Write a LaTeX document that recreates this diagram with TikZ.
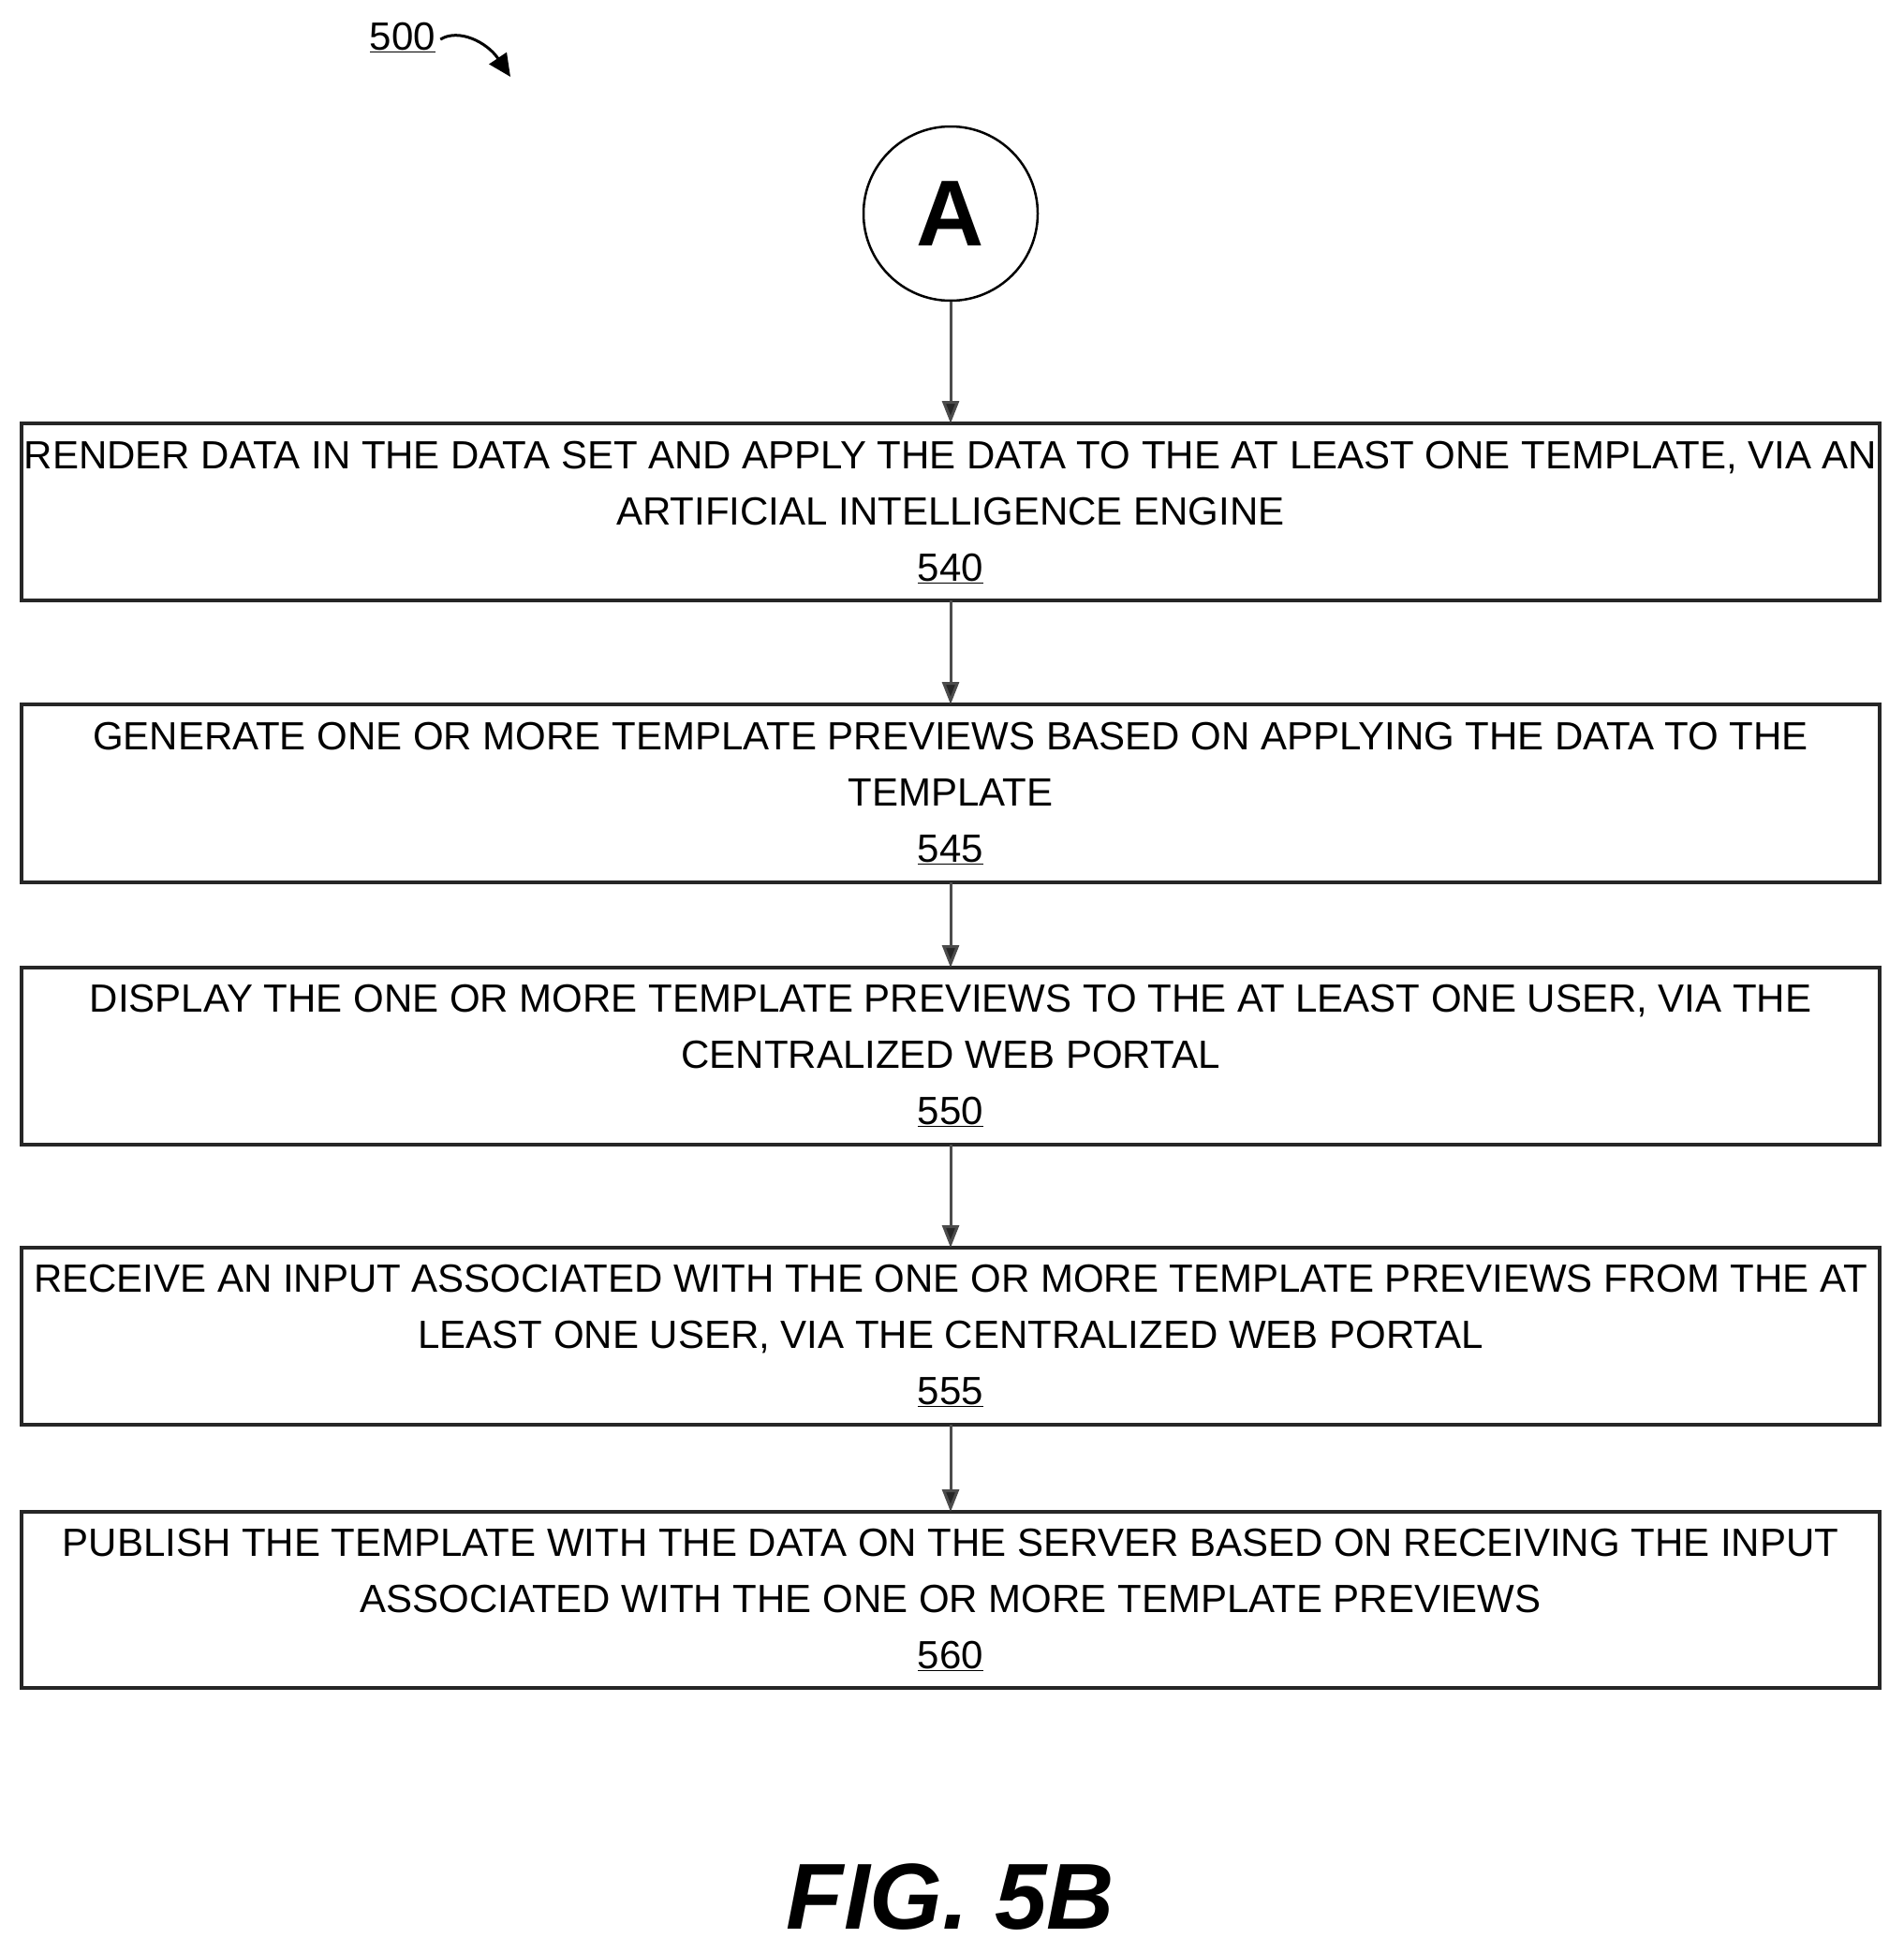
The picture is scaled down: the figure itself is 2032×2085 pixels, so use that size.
\documentclass[tikz,border=0pt]{standalone}
\usepackage{fontspec}
\setmainfont{Liberation Sans}
\usetikzlibrary{arrows.meta}
\begin{document}
\begin{tikzpicture}[x=1pt,y=-1pt,
  box/.style={draw=black!85,line width=4pt},
  txt/.style={align=center,font=\fontsize{42}{60}\selectfont,inner sep=0pt},
  arr/.style={draw=black!70,line width=3pt,-{Triangle[length=24pt,width=18pt,fill=black!85]}}]
\useasboundingbox (0,0) rectangle (2032,2085);
\node[circle,draw=black,line width=2.5pt,minimum size=186pt,inner sep=0pt,font=\fontsize{100}{100}\selectfont\bfseries] (A) at (1015,228) {A};
\foreach \n/\t/\b in {b1/452/641,b2/752/942,b3/1033/1222,b4/1332/1521,b5/1614/1802}{
  \draw[box] (23,\t) rectangle (2007,\b);
  \path (23,\t) rectangle (2007,\b);
  \coordinate (\n t) at (1015,\t);
  \coordinate (\n b) at (1015,\b);
}
\node[txt] (t1) at (1015,547) {RENDER DATA IN THE DATA SET AND APPLY THE DATA TO THE AT LEAST ONE TEMPLATE, VIA AN\\ARTIFICIAL INTELLIGENCE ENGINE\\\underline{540}};
\node[txt] (t2) at (1015,847) {GENERATE ONE OR MORE TEMPLATE PREVIEWS BASED ON APPLYING THE DATA TO THE\\TEMPLATE\\\underline{545}};
\node[txt] (t3) at (1015,1127) {DISPLAY THE ONE OR MORE TEMPLATE PREVIEWS TO THE AT LEAST ONE USER, VIA THE\\CENTRALIZED WEB PORTAL\\\underline{550}};
\node[txt] (t4) at (1015,1426) {RECEIVE AN INPUT ASSOCIATED WITH THE ONE OR MORE TEMPLATE PREVIEWS FROM THE AT\\LEAST ONE USER, VIA THE CENTRALIZED WEB PORTAL\\\underline{555}};
\node[txt] (t5) at (1015,1708) {PUBLISH THE TEMPLATE WITH THE DATA ON THE SERVER BASED ON RECEIVING THE INPUT\\ASSOCIATED WITH THE ONE OR MORE TEMPLATE PREVIEWS\\\underline{560}};
\draw[arr] (A.south) -- (b1t);
\draw[arr] (b1b) -- (b2t);
\draw[arr] (b2b) -- (b3t);
\draw[arr] (b3b) -- (b4t);
\draw[arr] (b4b) -- (b5t);
\node[txt,anchor=center] (n500) at (430,40) {\underline{500}};
\coordinate (c500) at (545,82);
\draw[line width=3pt,-{Triangle[length=24pt,width=22pt]}] (n500.east) ++(5,2) .. controls (490,30) and (520,45) .. (c500);
\node[font=\fontsize{100}{100}\selectfont\bfseries\itshape] (fig) at (1015,2025) {FIG. 5B};
\end{tikzpicture}
\end{document}
